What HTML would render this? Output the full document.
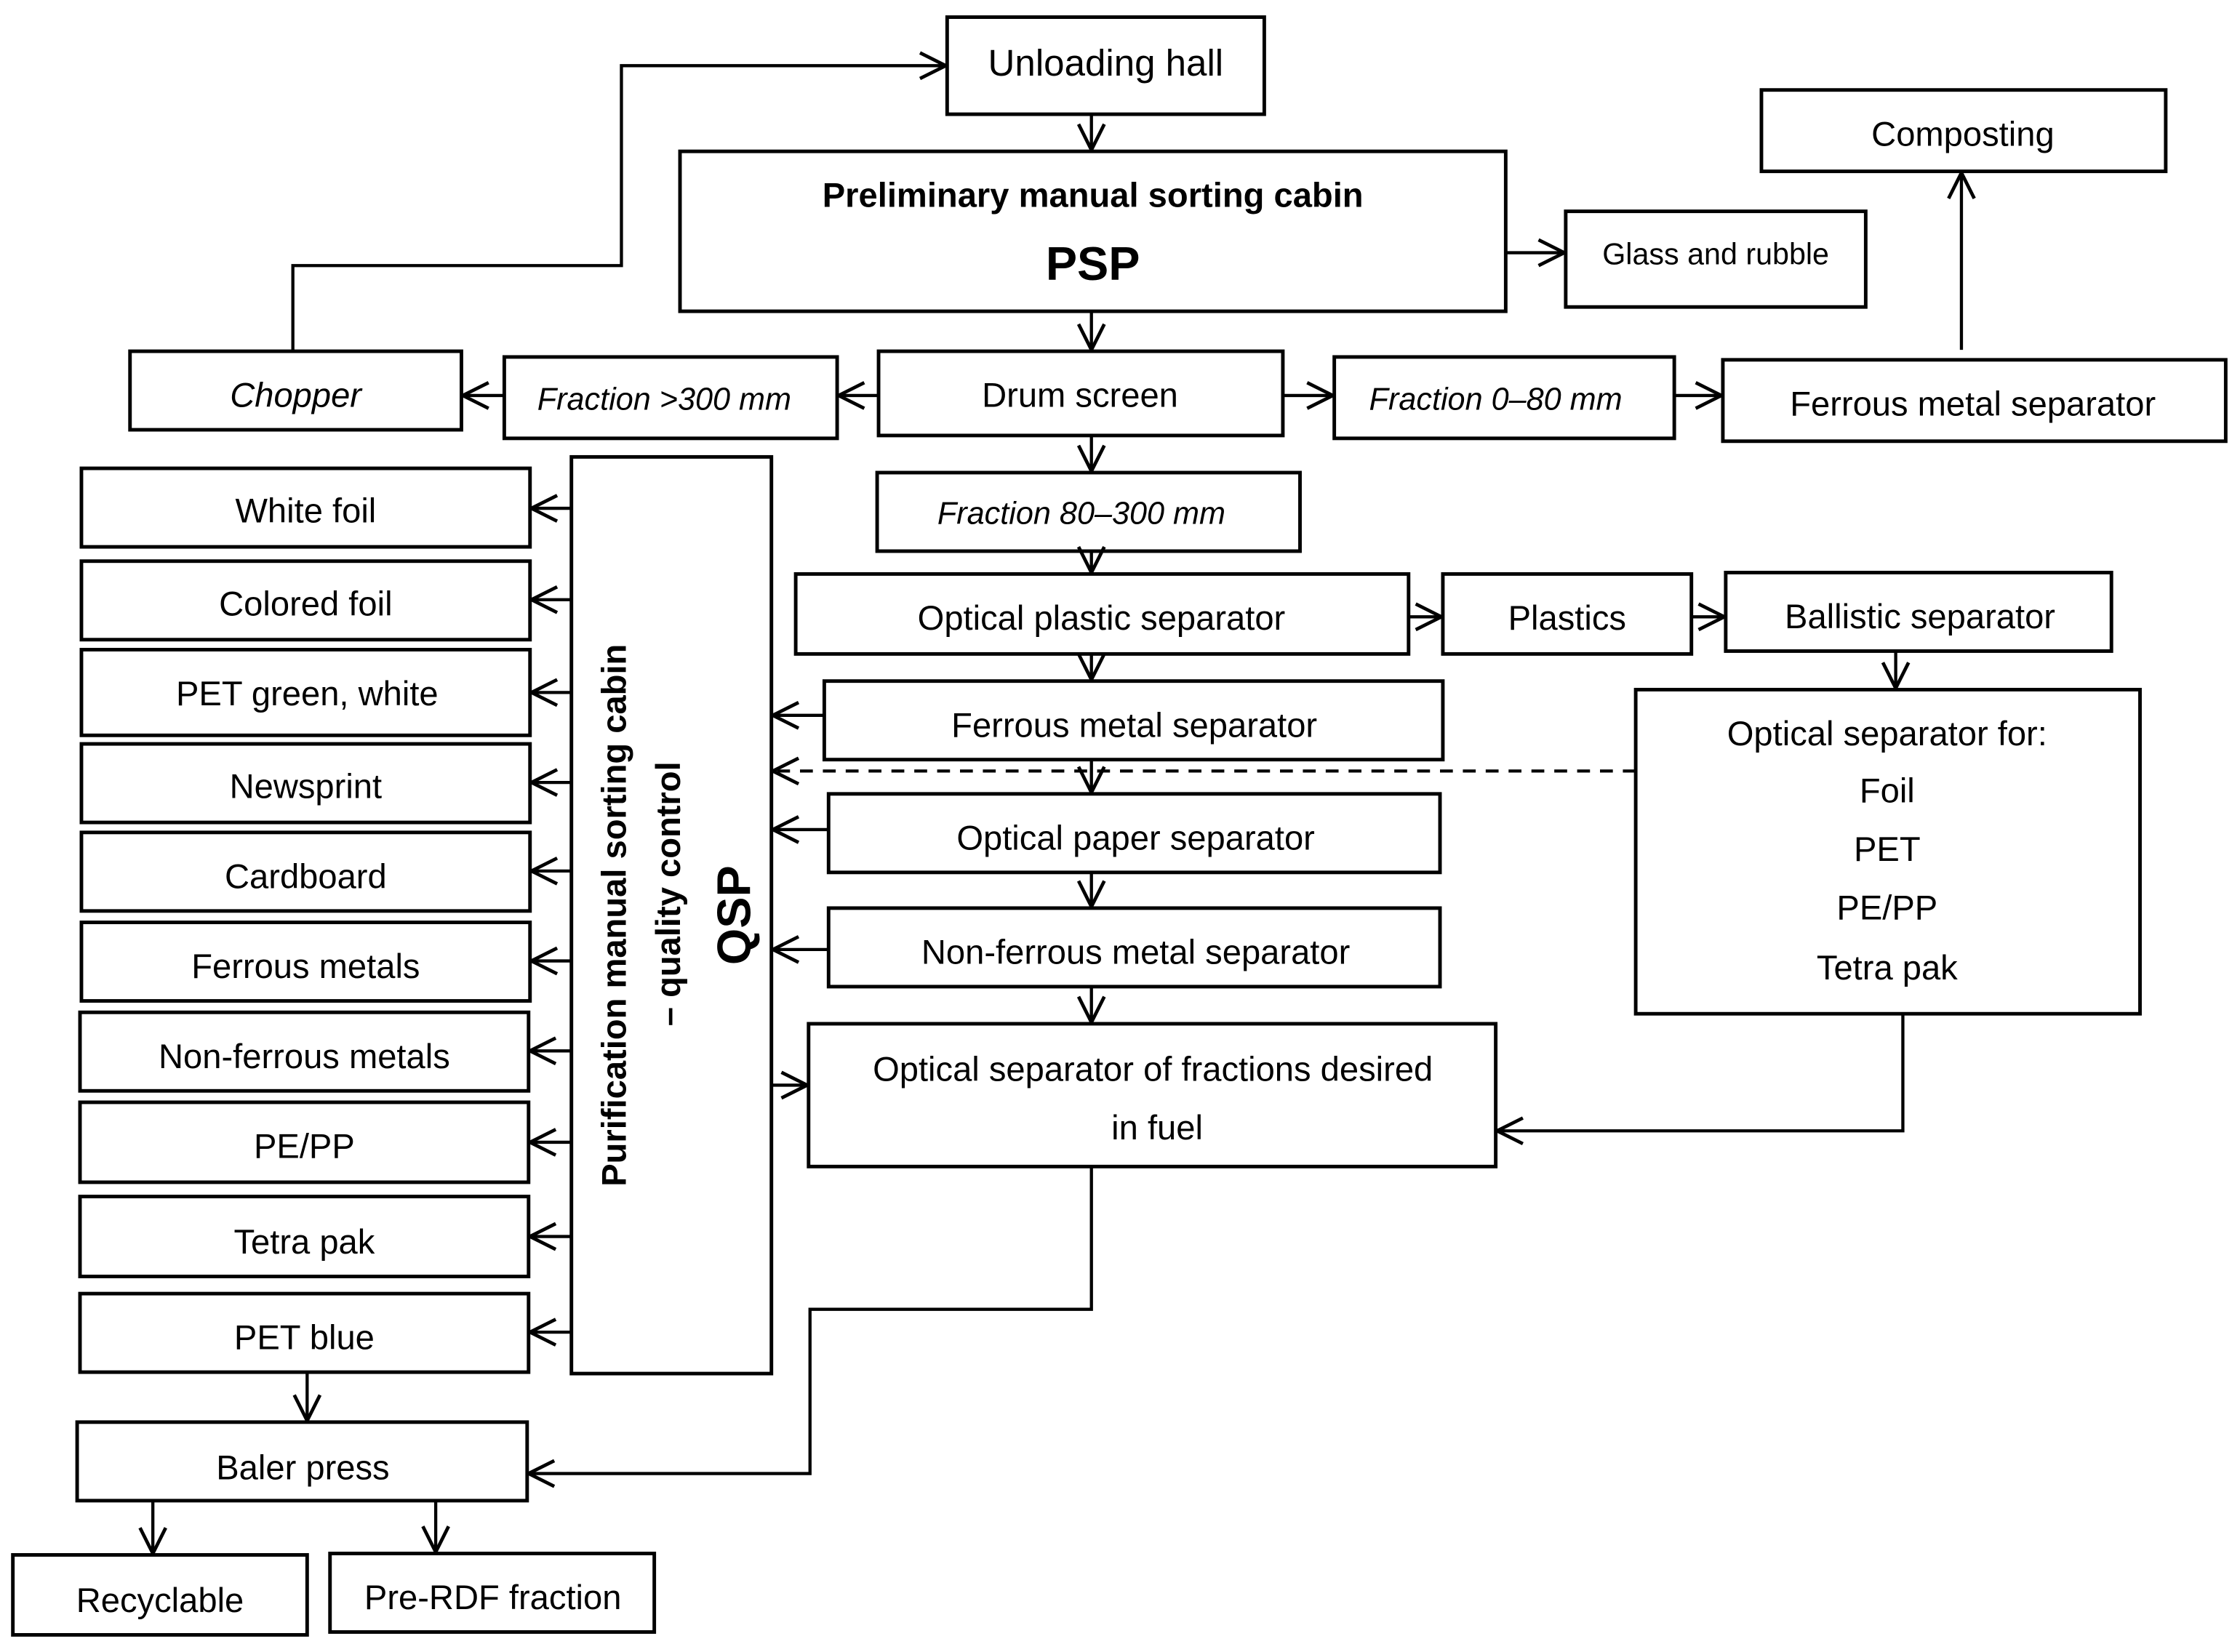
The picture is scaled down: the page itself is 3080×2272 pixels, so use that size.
<!DOCTYPE html>
<html><head><meta charset="utf-8"><style>
html,body{margin:0;padding:0;background:#fff;}
svg{display:block;}
text{font-family:"Liberation Sans",sans-serif;font-size:24px;fill:#000;}
.i{font-style:italic;font-size:22px;}
.b{font-weight:bold;}
</style></head><body>
<svg width="3080" height="2272" viewBox="0 0 1568 1157" preserveAspectRatio="none" xmlns="http://www.w3.org/2000/svg">
<defs>
<marker id="a" viewBox="0 0 22 22" refX="21" refY="11" markerWidth="22" markerHeight="22" markerUnits="userSpaceOnUse" orient="auto">
<path d="M3,2 L21,11 L3,20" fill="none" stroke="#000" stroke-width="2.4"/>
</marker>
</defs>
<g fill="none" stroke="#000" stroke-width="2.5">
<rect x="663" y="12" width="222" height="68"/>
<rect x="476" y="106" width="578" height="112"/>
<rect x="1096" y="148" width="210" height="67"/>
<rect x="1233" y="63" width="283" height="57"/>
<rect x="91" y="246" width="232" height="55"/>
<rect x="353" y="250" width="233" height="57"/>
<rect x="615" y="246" width="283" height="59"/>
<rect x="934" y="250" width="238" height="57"/>
<rect x="1206" y="252" width="352" height="57"/>
<rect x="614" y="331" width="296" height="55"/>
<rect x="557" y="402" width="429" height="56"/>
<rect x="1010" y="402" width="174" height="56"/>
<rect x="1208" y="401" width="270" height="55"/>
<rect x="577" y="477" width="433" height="55"/>
<rect x="1145" y="483" width="353" height="227"/>
<rect x="580" y="556" width="428" height="55"/>
<rect x="580" y="636" width="428" height="55"/>
<rect x="566" y="717" width="481" height="100"/>
<rect x="400" y="320" width="140" height="642"/>
<rect x="57" y="328" width="314" height="55"/>
<rect x="57" y="393" width="314" height="55"/>
<rect x="57" y="455" width="314" height="60"/>
<rect x="57" y="521" width="314" height="55"/>
<rect x="57" y="583" width="314" height="55"/>
<rect x="57" y="646" width="314" height="55"/>
<rect x="56" y="709" width="314" height="55"/>
<rect x="56" y="772" width="314" height="56"/>
<rect x="56" y="838" width="314" height="56"/>
<rect x="56" y="906" width="314" height="55"/>
<rect x="54" y="996" width="315" height="55"/>
<rect x="9" y="1089" width="206" height="56"/>
<rect x="231" y="1088" width="227" height="55"/>
</g>
<g fill="none" stroke="#000" stroke-width="2.2">
<polyline points="205,246 205,186 435,186 435,46 662,46" marker-end="url(#a)"/>
<line x1="764" y1="80" x2="764" y2="105" marker-end="url(#a)"/>
<line x1="1054" y1="177" x2="1095" y2="177" marker-end="url(#a)"/>
<line x1="764" y1="218" x2="764" y2="245" marker-end="url(#a)"/>
<line x1="615" y1="277" x2="587" y2="277" marker-end="url(#a)"/>
<line x1="353" y1="277" x2="324" y2="277" marker-end="url(#a)"/>
<line x1="898" y1="277" x2="933" y2="277" marker-end="url(#a)"/>
<line x1="1172" y1="277" x2="1205" y2="277" marker-end="url(#a)"/>
<line x1="1373" y1="245" x2="1373" y2="121" marker-end="url(#a)"/>
<line x1="764" y1="305" x2="764" y2="330" marker-end="url(#a)"/>
<line x1="764" y1="386" x2="764" y2="401" marker-end="url(#a)"/>
<line x1="986" y1="432" x2="1009" y2="432" marker-end="url(#a)"/>
<line x1="1184" y1="432" x2="1207" y2="432" marker-end="url(#a)"/>
<line x1="1327" y1="456" x2="1327" y2="482" marker-end="url(#a)"/>
<line x1="764" y1="458" x2="764" y2="476" marker-end="url(#a)"/>
<line x1="764" y1="532" x2="764" y2="555" marker-end="url(#a)"/>
<line x1="1145" y1="540" x2="541" y2="540" stroke-dasharray="9,7" marker-end="url(#a)"/>
<line x1="764" y1="611" x2="764" y2="635" marker-end="url(#a)"/>
<line x1="764" y1="691" x2="764" y2="716" marker-end="url(#a)"/>
<line x1="577" y1="501" x2="541" y2="501" marker-end="url(#a)"/>
<line x1="580" y1="581" x2="541" y2="581" marker-end="url(#a)"/>
<line x1="580" y1="665" x2="541" y2="665" marker-end="url(#a)"/>
<line x1="540" y1="760" x2="565" y2="760" marker-end="url(#a)"/>
<polyline points="1332,710 1332,792 1048,792" marker-end="url(#a)"/>
<polyline points="764,817 764,917 567,917 567,1032 370,1032" marker-end="url(#a)"/>
<line x1="400" y1="356" x2="372" y2="356" marker-end="url(#a)"/>
<line x1="400" y1="420" x2="372" y2="420" marker-end="url(#a)"/>
<line x1="400" y1="485" x2="372" y2="485" marker-end="url(#a)"/>
<line x1="400" y1="548" x2="372" y2="548" marker-end="url(#a)"/>
<line x1="400" y1="610" x2="372" y2="610" marker-end="url(#a)"/>
<line x1="400" y1="673" x2="372" y2="673" marker-end="url(#a)"/>
<line x1="400" y1="736" x2="371" y2="736" marker-end="url(#a)"/>
<line x1="400" y1="800" x2="371" y2="800" marker-end="url(#a)"/>
<line x1="400" y1="866" x2="371" y2="866" marker-end="url(#a)"/>
<line x1="400" y1="933" x2="371" y2="933" marker-end="url(#a)"/>
<line x1="215" y1="962" x2="215" y2="995" marker-end="url(#a)"/>
<line x1="107" y1="1051" x2="107" y2="1088" marker-end="url(#a)"/>
<line x1="305" y1="1051" x2="305" y2="1087" marker-end="url(#a)"/>
</g>
<g text-anchor="middle">
<text x="774" y="53" style="font-size:26px">Unloading hall</text>
<text x="765" y="145" class="b">Preliminary manual sorting  cabin</text>
<text x="765" y="196" class="b" style="font-size:33px">PSP</text>
<text x="1201" y="185" style="font-size:21px">Glass and rubble</text>
<text x="1374" y="102">Composting</text>
<text x="207" y="285" class="i" style="font-size:24px">Chopper</text>
<text x="465" y="287" class="i">Fraction &gt;300 mm</text>
<text x="756" y="285">Drum screen</text>
<text x="1047" y="287" class="i">Fraction 0–80 mm</text>
<text x="1381" y="291">Ferrous metal separator</text>
<text x="757" y="367" class="i">Fraction 80–300 mm</text>
<text x="771" y="441">Optical plastic separator</text>
<text x="1097" y="441">Plastics</text>
<text x="1344" y="440">Ballistic separator</text>
<text x="794" y="516">Ferrous metal separator</text>
<text x="1321" y="522">Optical separator for:</text>
<text x="1321" y="562">Foil</text>
<text x="1321" y="603">PET</text>
<text x="1321" y="644">PE/PP</text>
<text x="1321" y="686">Tetra pak</text>
<text x="795" y="595">Optical paper separator</text>
<text x="795" y="675">Non-ferrous metal separator</text>
<text x="807" y="757">Optical separator of fractions desired</text>
<text x="810" y="798">in fuel</text>
<text x="214" y="366">White foil</text>
<text x="214" y="431">Colored foil</text>
<text x="215" y="494">PET green, white</text>
<text x="214" y="559">Newsprint</text>
<text x="214" y="622">Cardboard</text>
<text x="214" y="685">Ferrous metals</text>
<text x="213" y="748">Non-ferrous metals</text>
<text x="213" y="811">PE/PP</text>
<text x="213" y="878">Tetra pak</text>
<text x="213" y="945">PET blue</text>
<text x="212" y="1036">Baler press</text>
<text x="112" y="1129">Recyclable</text>
<text x="345" y="1127">Pre-RDF fraction</text>
<g transform="translate(438,641) rotate(-90)"><text x="0" y="0" class="b">Purification manual sorting  cabin</text></g>
<g transform="translate(476,626) rotate(-90)"><text x="0" y="0" class="b">– quality control</text></g>
<g transform="translate(525,641) rotate(-90)"><text x="0" y="0" class="b" style="font-size:33px">QSP</text></g>
</g>
</svg>
</body></html>
